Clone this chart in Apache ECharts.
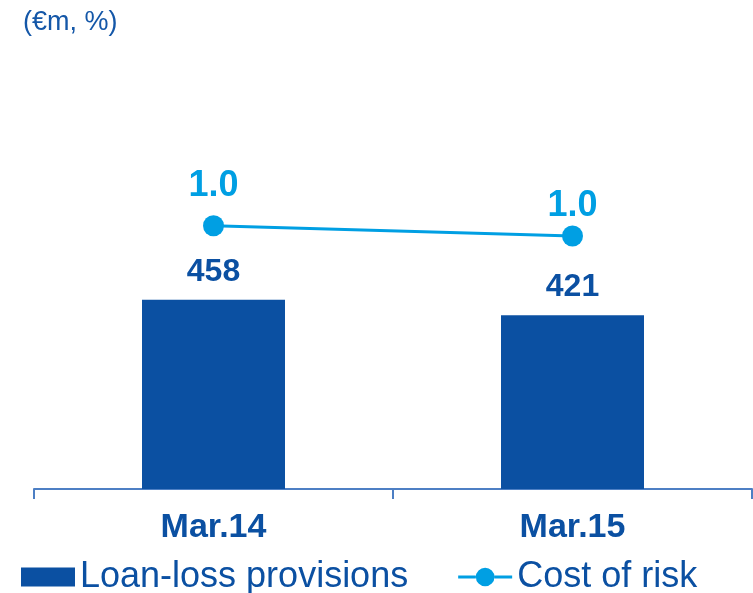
<!DOCTYPE html>
<html>
<head>
<meta charset="utf-8">
<style>
  html, body { margin: 0; padding: 0; background: #fff; }
  #chart { width: 753px; height: 593px; }
</style>
<script src="https://cdn.jsdelivr.net/npm/echarts@6/dist/echarts.min.js"></script>
</head>
<body>
<div id="chart"></div>
<script>
// chart data
var categories = ['Mar.14', 'Mar.15']
var loanLossProvisions = [458, 421]
var costOfRisk = [1.02, 0.98]
var seriesNames = ['Loan-loss provisions', 'Cost of risk']
var unitTitle = '(€m, %)'

var darkBlue = '#0b50a2'
var lightBlue = '#009fe3'
var fontFamily = '"Liberation Sans", Arial, sans-serif'
// line + dot legend marker
var lineDotIcon = 'path://M0,8H18V11H0Z M37,8H55V11H37Z M18,9.5A9.5,9.5 0 1,0 37,9.5A9.5,9.5 0 1,0 18,9.5Z'

var chart = echarts.init(document.getElementById('chart'))

chart.setOption({
  backgroundColor: '#fff',
  animation: false,
  title: {
    text: unitTitle,
    left: 18,
    top: 4,
    textStyle: {
      fontFamily: fontFamily,
      fontSize: 27,
      fontWeight: 'normal',
      color: '#1457a8'
    }
  },
  legend: {
    data: [
      { name: seriesNames[0], icon: 'rect' },
      { name: seriesNames[1], icon: lineDotIcon }
    ],
    left: 21,
    top: 559,
    padding: 0,
    itemWidth: 54,
    itemHeight: 19,
    itemGap: 50,
    textStyle: {
      fontFamily: fontFamily,
      fontSize: 36,
      color: darkBlue
    }
  },
  grid: {
    left: 34,
    right: 1,
    top: 76,
    bottom: 104
  },
  xAxis: {
    type: 'category',
    data: categories,
    axisLine: {
      lineStyle: { color: '#4d7fc4', width: 2 }
    },
    axisTick: {
      show: true,
      length: 10,
      lineStyle: { color: '#4d7fc4', width: 2 }
    },
    axisLabel: {
      margin: 22,
      fontFamily: fontFamily,
      fontSize: 34,
      fontWeight: 'bold',
      color: darkBlue
    }
  },
  yAxis: [
    { type: 'value', min: 0, max: 1000, show: false, splitLine: { show: false } },
    { type: 'value', min: 0, max: 1.6, show: false, splitLine: { show: false } }
  ],
  series: [
    {
      name: seriesNames[0],
      type: 'bar',
      data: loanLossProvisions,
      barWidth: 143,
      itemStyle: { color: darkBlue },
      label: {
        show: true,
        position: 'top',
        distance: 12,
        fontFamily: fontFamily,
        fontSize: 32,
        fontWeight: 'bold',
        color: darkBlue
      }
    },
    {
      name: seriesNames[1],
      type: 'line',
      yAxisIndex: 1,
      data: costOfRisk.map(function(v, i) {
        // labels sit at different heights in the original
        return { value: v, label: { distance: i === 0 ? 11 : 1 } }
      }),
      symbol: 'circle',
      symbolSize: 21,
      lineStyle: { color: lightBlue, width: 3 },
      itemStyle: { color: lightBlue },
      label: {
        show: true,
        position: 'top',
        fontFamily: fontFamily,
        fontSize: 36,
        fontWeight: 'bold',
        color: lightBlue,
        formatter: function(p) {
          return p.value.toFixed(1)
        }
      }
    }
  ]
})
</script>
</body>
</html>
